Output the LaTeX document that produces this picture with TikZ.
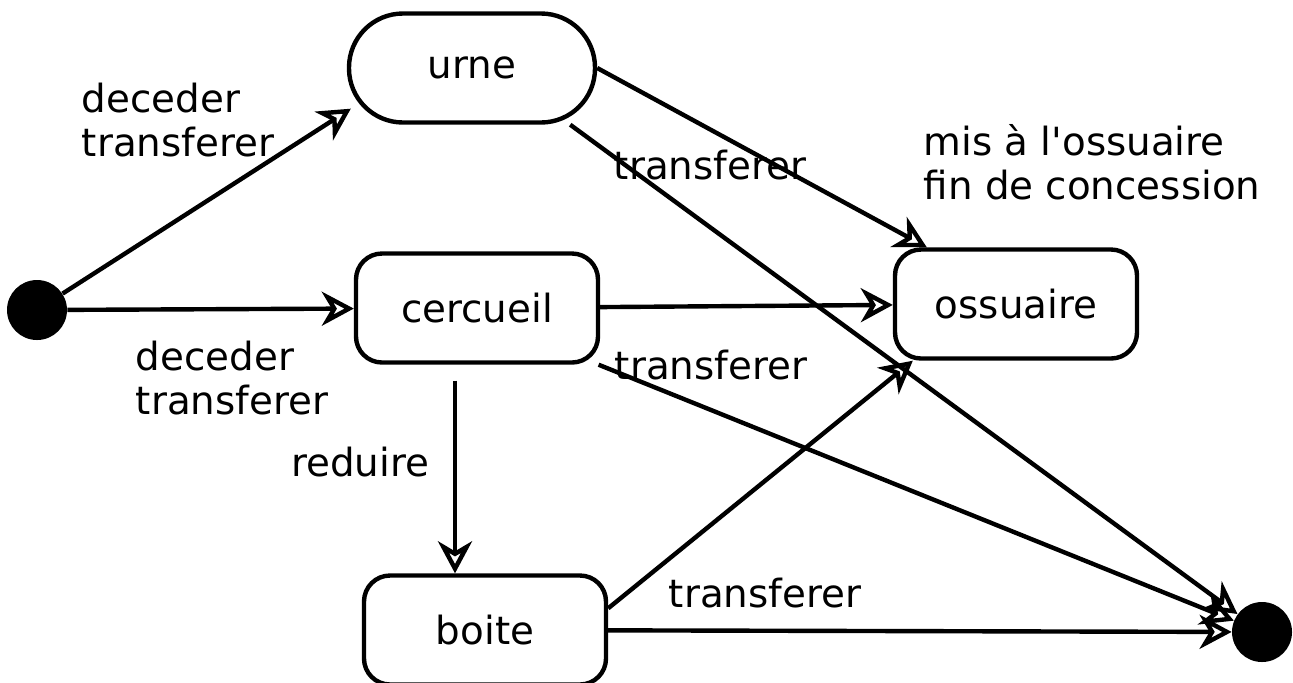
\documentclass[tikz,border=0pt]{standalone}
\usepackage{fontspec}
\setmainfont{DejaVu Sans}
\usetikzlibrary{positioning, arrows.meta}

\tikzset{
    etat/.style={draw, line width=2.2pt, rounded corners=13pt, minimum width=121pt, minimum height=54.5pt},
    pastille/.style={circle, fill=black, minimum size=30pt, inner sep=0pt},
    trans/.style={line width=2.2pt, -{Stealth[open, length=16pt, width=17pt, inset=5pt, line width=2.2pt]}},
    lbl/.style={align=left, inner sep=0pt}
}

\begin{document}
\begin{tikzpicture}[x=0.5pt, y=-0.5pt, font=\fontsize{19.4}{22}\selectfont]
    % tikz code goes here
    \useasboundingbox (0,0) rectangle (1293,682);
    \clip (0,0) rectangle (1293,682);

    \node[pastille] (debut) at (37,310) {};
    \node[etat, rounded corners=27pt, minimum width=123pt] (urne) at (472,68) {urne};
    \node[etat] (cercueil) at (477,308) {cercueil};
    \node[etat] (ossuaire) at (1016,304) {ossuaire};
    \node[etat] (boite) at (485,630) {boite};
    \node[pastille] (fin) at (1262,632) {};

    \node[lbl] (l1) at (178,120) {deceder\\transferer};
    \node[lbl] (l2) at (232,378) {deceder\\transferer};
    \node[lbl] (l3) at (710,165) {transferer};
    \node[lbl] (l4) at (1092,162) {mis à l\textquotesingle ossuaire\\fin de concession};
    \node[lbl] (l5) at (711,365) {transferer};
    \node[lbl] (l6) at (360,462) {reduire};
    \node[lbl] (l7) at (765,593) {transferer};

    \draw[trans] (debut) -- ([xshift=2pt]urne.198);
    \draw[trans] (debut) -- (cercueil);
    \draw[trans] (urne.east) -- ([xshift=17pt]ossuaire.north west);
    \draw[trans] (urne.330) -- (fin);
    \draw[trans] (cercueil) -- (ossuaire);
    \draw[trans] (cercueil.335) -- (fin);
    \draw[trans, shorten <=8pt] ([xshift=-11pt]cercueil.south) -- ([xshift=-11pt]cercueil.south |- boite.north);
    \draw[trans] (boite.10) -- ([xshift=10pt]ossuaire.south west);
    \draw[trans] (boite) -- (fin);
\end{tikzpicture}
\end{document}
